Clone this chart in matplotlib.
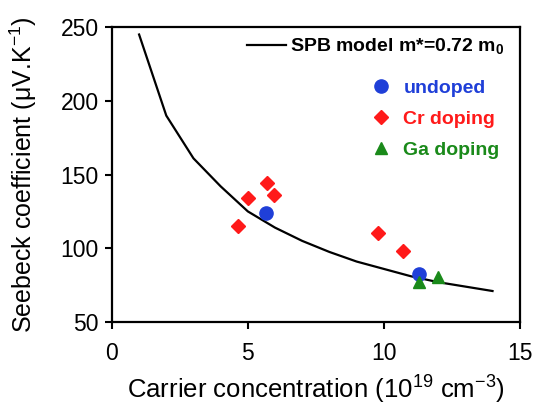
import matplotlib
matplotlib.use("Agg")
import matplotlib.pyplot as plt
from matplotlib.lines import Line2D

plt.rcParams['font.family'] = ['Liberation Sans', 'DejaVu Sans']
plt.rcParams['mathtext.fontset'] = 'custom'
plt.rcParams['mathtext.rm'] = 'Liberation Sans'
plt.rcParams['mathtext.bf'] = 'Liberation Sans:bold'

# SPB model curve
spb_n = [1, 2, 3, 4, 5, 6, 7, 8, 9, 10, 11, 12, 13, 14]
spb_S = [245, 190, 161, 142, 125, 114, 105, 97.5, 91, 86, 81, 77, 74, 71]

# Measured samples
undoped_n = [5.66, 11.29]
undoped_S = [124.2, 82.6]
cr_n = [4.64, 4.99, 5.72, 5.97, 9.79, 10.69]
cr_S = [115.1, 134.3, 144.3, 136.4, 110.6, 98.4]
ga_n = [11.29, 12.0]
ga_S = [76.9, 80.7]

x_ticks = [0, 5, 10, 15]
y_ticks = [50, 100, 150, 200, 250]

blue = '#1f3fd8'
red = '#ff1a1a'
green = '#1a8a1a'

fig = plt.figure(figsize=(5.38, 4.05), dpi=100)
ax = fig.add_axes([0.208, 0.205, 0.758, 0.728])

line, = ax.plot(spb_n, spb_S, color='black', lw=1.6)
ax.plot(undoped_n, undoped_S, 'o', color=blue, ms=9.5, ls='none', zorder=3)
ax.plot(cr_n, cr_S, 'D', color=red, ms=7, ls='none', zorder=3)
ax.plot(ga_n, ga_S, '^', color=green, ms=8.5, ls='none', zorder=3)

ax.set_xlim(0, 15)
ax.set_ylim(50, 250)
ax.set_xticks(x_ticks)
ax.set_yticks(y_ticks)
ax.tick_params(direction='out', length=5, width=1.5, labelsize=16.5)
ax.tick_params(axis='x', pad=9.5)
ax.tick_params(axis='y', pad=4.5)
for s in ax.spines.values():
    s.set_linewidth(1.6)

ax.set_xlabel('Carrier concentration (10$^{19}$ cm$^{-3}$)', fontsize=18.5, labelpad=5)
ax.set_ylabel('Seebeck coefficient (μV.K$^{-1}$)', fontsize=18)
ax.yaxis.set_label_coords(-0.178, 0.5)

leg1 = ax.legend([line], [r'SPB model m*=0.72 m$_\mathbf{0}$'], loc='upper right',
                 frameon=False, prop={'weight': 'bold', 'size': 14},
                 handlelength=2.0, handletextpad=0.2, borderaxespad=0.1,
                 bbox_to_anchor=(0.985, 1.0))
ax.add_artist(leg1)

handles = [
    Line2D([], [], marker='o', color=blue, ls='none', ms=9.5),
    Line2D([], [], marker='D', color=red, ls='none', ms=7),
    Line2D([], [], marker='^', color=green, ls='none', ms=8.5),
]
labels = ['undoped', 'Cr doping', 'Ga doping']
leg2 = ax.legend(handles, labels, loc='upper left', bbox_to_anchor=(0.593, 0.85),
                 frameon=False, prop={'weight': 'bold', 'size': 14},
                 labelspacing=0.7, handletextpad=0.15, borderaxespad=0)
for t, c in zip(leg2.get_texts(), [blue, red, green]):
    t.set_color(c)

fig.savefig('out.png', dpi=100)
